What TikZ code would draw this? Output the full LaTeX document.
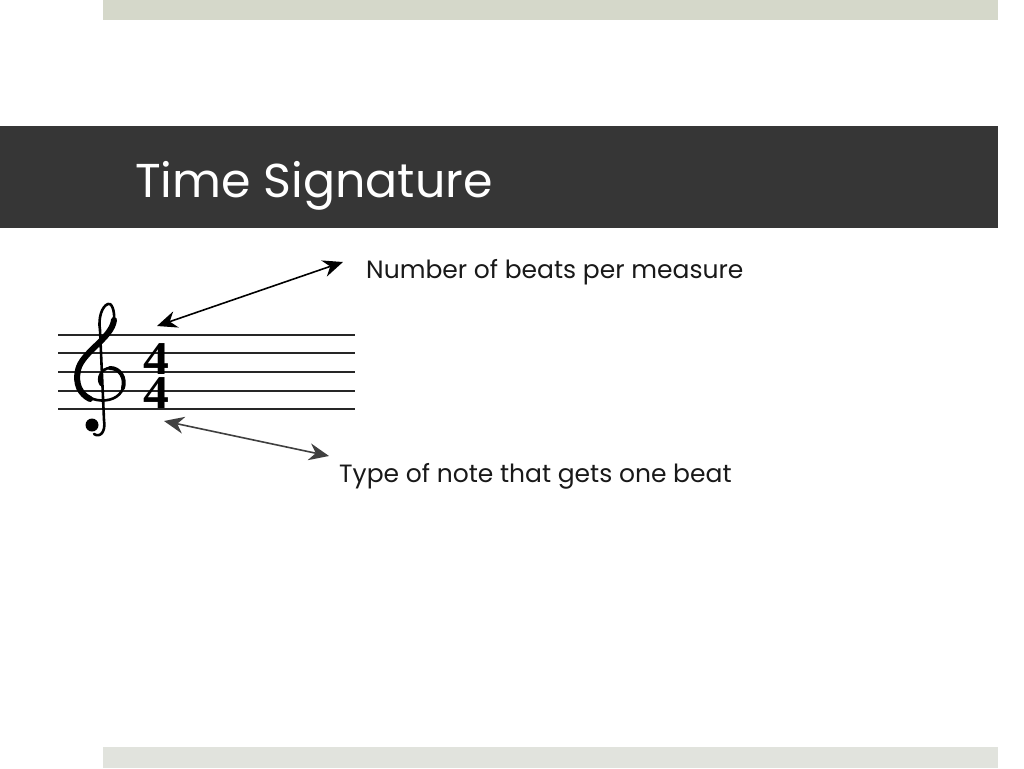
\documentclass[tikz,border=0pt]{standalone}
\usepackage{fontspec}
\setmainfont{Poppins}
\newfontfamily\numfont{Liberation Serif}
\usetikzlibrary{arrows.meta}
\definecolor{topbar}{HTML}{D5D8CA}
\definecolor{botbar}{HTML}{E1E3DD}
\definecolor{titlebar}{HTML}{363636}
\tikzset{
  staffline/.style={line width=1.8pt, black!85},
  pointer/.style={line width=1.6pt, {Stealth[length=20pt,width=17pt]}-{Stealth[length=20pt,width=17pt]}},
  label/.style={anchor=base west, inner sep=0pt, font=\fontsize{25}{30}\selectfont, text=black!90},
  digit/.style={anchor=base, inner sep=0pt, font=\numfont\bfseries\fontsize{47}{47}\selectfont, xscale=1.1},
  clefthin/.style={line width=2.6pt, line cap=round, line join=round},
  clefthick/.style={line width=6pt, line cap=round, line join=round},
}
\begin{document}
\begin{tikzpicture}[x=1pt,y=-1pt]
\useasboundingbox[fill=white] (0,0) rectangle (1024,768);
\fill[topbar] (103,0) rectangle (998,20);
\fill[botbar] (103,747) rectangle (998,768);
\fill[titlebar] (0,126) rectangle (998,228);
\node[anchor=base west, inner sep=0pt, text=white, font=\fontsize{47.5}{57}\selectfont] (title) at (135,197) {Time Signature};
% staff
\foreach \y/\n in {335/a,353/b,372/c,391/d,409/e}
  \draw[staffline] (58,\y) coordinate (l\n) -- (355,\y) coordinate (r\n);
% treble clef
\draw[clefthin] (101,385) .. controls (96,378) and (102,368) .. (110,368)
  .. controls (120,368) and (126,378) .. (123,388)
  .. controls (120,398) and (108,402) .. (97,400)
  .. controls (82,397) and (75,384) .. (78,370)
  .. controls (82,352) and (112,338) .. (114,320)
  .. controls (115,310) and (111,302) .. (108,304)
  .. controls (102,306) and (98,318) .. (100,330)
  -- (104,420)
  .. controls (106,432) and (100,438) .. (94,434);
\draw[clefthick] (90,399) .. controls (80,394) and (75,384) .. (78,370)
  .. controls (82,352) and (112,338) .. (114,320);
\draw[line width=4pt, line cap=round] (110,368) .. controls (120,368) and (126,378) .. (123,388);
\fill (92,425) circle (6.5);
\node[digit] (timesig) at (156,408) {\shortstack{4\\4}};
% labels
\node[label] (beats) at (366,278) {Number of beats per measure};
\node[label] (note) at (339,482) {Type of note that gets one beat};
% arrows
\coordinate (u1) at (157,326);
\coordinate (u2) at (343,262);
\coordinate (d1) at (164,421);
\coordinate (d2) at (329,456);
\draw[pointer] (u1) -- (u2);
\draw[pointer, black!75] (d1) -- (d2);
\end{tikzpicture}
\end{document}
